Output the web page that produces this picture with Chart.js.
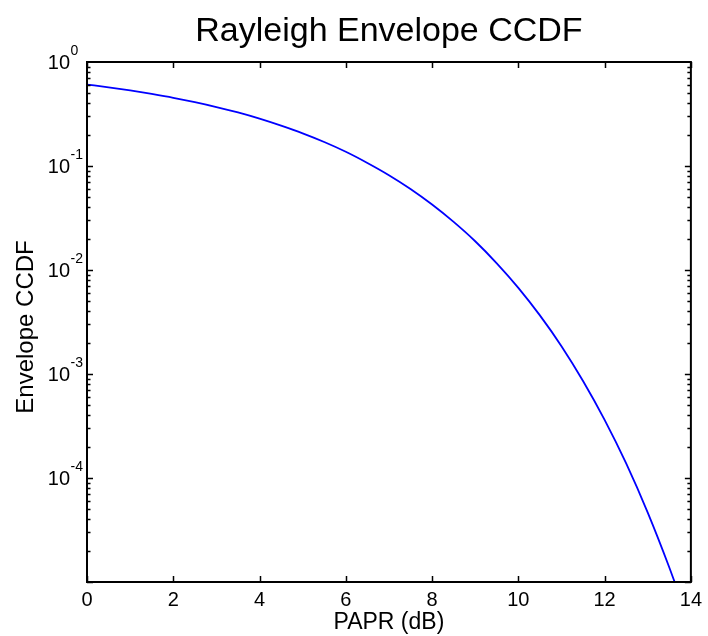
<!DOCTYPE html>
<html>
<head>
<meta charset="utf-8">
<title>Rayleigh Envelope CCDF</title>
<script src="https://cdn.jsdelivr.net/npm/chart.js@4/dist/chart.umd.min.js"></script>
<style>
    html, body { margin: 0; padding: 0; background: #fff; }
    canvas { display: block; }
</style>
</head>
<body>
<canvas id="ccdfChart" width="708" height="636"></canvas>
<script>
// values
const papr = [0, 0.5, 1, 1.5, 2, 2.5, 3, 3.5, 4, 4.5, 5, 5.5, 6, 6.5, 7, 7.5,
    8, 8.5, 9, 9.5, 10, 10.5, 11, 11.5, 12, 12.5, 13, 13.5, 13.65];
const ccdf = [0.607, 0.571, 0.533, 0.493, 0.453, 0.411, 0.369, 0.327, 0.285, 0.244,
    0.206, 0.170, 0.137, 0.107, 0.0816, 0.0601, 0.0426, 0.0290, 0.0189, 0.0116,
    0.00674, 0.00366, 0.00185, 0.000856, 0.000362, 0.000138, 0.0000465, 0.0000138, 0.0000093];
const xTicks = [0, 2, 4, 6, 8, 10, 12, 14];
const yExponents = [0, -1, -2, -3, -4];
const yDecades = [-5, -4, -3, -2, -1];

const titleText = 'Rayleigh Envelope CCDF';
const xLabel = 'PAPR (dB)';
const yLabel = 'Envelope CCDF';

const FONT = 'Arial, "Liberation Sans", Helvetica, sans-serif';

// MATLAB style box: inward ticks on all four sides, y labels as 10^n
const matlabAxes = {
    id: 'matlabAxes',
    afterDraw(chart) {
        const ctx = chart.ctx;
        const area = chart.chartArea;
        const x = chart.scales.x;
        const y = chart.scales.y;
        const midX = (area.left + area.right) / 2;
        const midY = (area.top + area.bottom) / 2;
        ctx.save();
        ctx.strokeStyle = '#000';

        // tick marks
        ctx.lineWidth = 1.5;
        ctx.beginPath();
        xTicks.forEach(v => {
            const px = Math.round(x.getPixelForValue(v)) + 0.5;
            ctx.moveTo(px, area.bottom);
            ctx.lineTo(px, area.bottom - 6);
            ctx.moveTo(px, area.top);
            ctx.lineTo(px, area.top + 6);
        });
        yDecades.forEach(e => {
            for (let m = 1; m <= 9; m++) {
                const v = m * Math.pow(10, e);
                const py = Math.round(y.getPixelForValue(v)) + 0.5;
                const len = m === 1 ? 6 : 3.5;
                ctx.moveTo(area.left, py);
                ctx.lineTo(area.left + len, py);
                ctx.moveTo(area.right, py);
                ctx.lineTo(area.right - len, py);
            }
        });
        ctx.stroke();

        // box
        ctx.lineWidth = 2;
        ctx.strokeRect(area.left, area.top, area.right - area.left, area.bottom - area.top);

        ctx.fillStyle = '#000';
        ctx.textBaseline = 'alphabetic';

        // y tick labels
        yExponents.forEach(e => {
            const py = y.getPixelForValue(Math.pow(10, e));
            const baseX = area.left - 17;
            ctx.font = '20px ' + FONT;
            ctx.textAlign = 'right';
            ctx.fillText('10', baseX, py + 7);
            ctx.font = '14px ' + FONT;
            ctx.textAlign = 'left';
            ctx.fillText(String(e), baseX + 0.5, py - 7);
        });

        // title
        ctx.textAlign = 'center';
        ctx.font = '34px ' + FONT;
        ctx.fillText(titleText, midX, 41);

        // x axis title
        ctx.font = '23px ' + FONT;
        ctx.fillText(xLabel, midX, 629);

        // y axis title
        ctx.save();
        ctx.translate(33, midY + 5);
        ctx.rotate(-Math.PI / 2);
        ctx.font = '24px ' + FONT;
        ctx.fillText(yLabel, 0, 0);
        ctx.restore();

        ctx.restore();
    }
};

new Chart(document.getElementById('ccdfChart'), {
    type: 'line',
    data: {
        datasets: [{
            label: 'Envelope CCDF',
            data: papr.map((p, i) => ({ x: p, y: ccdf[i] })),
            borderColor: '#0000ff',
            borderWidth: 1.8,
            pointRadius: 0,
            fill: false,
            cubicInterpolationMode: 'monotone'
        }]
    },
    options: {
        responsive: false,
        animation: false,
        devicePixelRatio: 1,
        layout: { padding: { left: 0, right: 13, top: 62, bottom: 0 } },
        plugins: {
            legend: { display: false },
            tooltip: { enabled: false },
            title: { display: false }
        },
        scales: {
            x: {
                type: 'linear',
                min: 0,
                max: 14,
                afterFit: s => { s.height = 54; },
                afterBuildTicks: s => { s.ticks = xTicks.map(v => ({ value: v })); },
                grid: { display: false, drawTicks: false },
                border: { display: false },
                ticks: {
                    color: '#000',
                    padding: 6,
                    maxRotation: 0,
                    autoSkip: false,
                    font: { family: FONT, size: 20 }
                },
                title: { display: false }
            },
            y: {
                type: 'logarithmic',
                min: 1e-5,
                max: 1,
                afterFit: s => { s.width = 87; },
                grid: { display: false, drawTicks: false },
                border: { display: false },
                ticks: { display: false },
                title: { display: false }
            }
        }
    },
    plugins: [matlabAxes]
});
</script>
</body>
</html>
